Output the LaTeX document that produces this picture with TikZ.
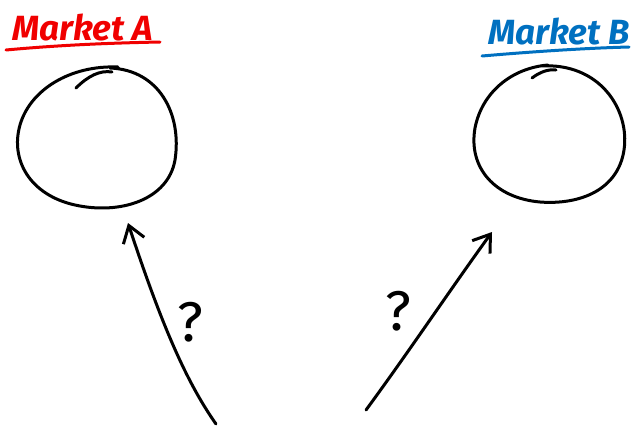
\documentclass[tikz,border=0pt]{standalone}
\usepackage{fontspec}
\setmainfont{Fira Sans}
\usetikzlibrary{arrows.meta}
\definecolor{mred}{RGB}{240,0,0}
\definecolor{mblue}{RGB}{0,112,192}
\tikzset{
  ink/.style={line width=3pt, line cap=round, line join=round, black},
  pen/.style={line width=3pt, line cap=round},
  title/.style={font=\bfseries\itshape\fontsize{35}{35}\selectfont, inner sep=0pt, anchor=base west},
  qmark/.style={font=\fontsize{56}{56}\selectfont, inner sep=0pt},
  tip/.style={-{Straight Barb[length=16pt,width=22pt,line width=3pt]}}
}
\begin{document}
\begin{tikzpicture}[x=1pt,y=-1pt]
  \useasboundingbox (0,0) rectangle (631,429);

  % titles with underlines
  \node[title, text=mred] (ta) at (12,40) {Market A};
  \draw[pen, mred] (6,50) .. controls (60,45) and (110,43) .. (160,42);
  \node[title, text=mblue] (tb) at (488,44) {Market B};
  \draw[pen, mblue] (482,56) .. controls (540,51) and (590,48) .. (629,47);

  % market A: loose circle
  \draw[ink] (110,68) .. controls (160,70) and (182,115) .. (175,160)
             .. controls (168,200) and (120,215) .. (75,205)
             .. controls (30,195) and (10,160) .. (20,125)
             .. controls (30,90) and (70,65) .. (118,67);
  \draw[ink] (76,88) .. controls (88,76) and (100,70) .. (112,72);

  % market B: loose circle
  \draw[ink] (540,66) .. controls (600,62) and (630,110) .. (624,150)
             .. controls (618,190) and (580,205) .. (540,202)
             .. controls (495,198) and (468,168) .. (475,128)
             .. controls (482,92) and (512,68) .. (548,65);
  \draw[ink] (532,78) .. controls (540,72) and (548,69) .. (556,70);

  % arrows from below
  \coordinate (sa) at (216,424);
  \coordinate (ea) at (128,223);
  \coordinate (sb) at (366,410);
  \coordinate (eb) at (492,232);
  \draw[ink, tip] (sa) .. controls (185,380) and (160,320) .. (ea);
  \draw[ink, tip] (sb) .. controls (410,350) and (450,290) .. (eb);

  % question marks
  \node[qmark] (qa) at (190,322) {?};
  \node[qmark] (qb) at (398,311) {?};
\end{tikzpicture}
\end{document}
